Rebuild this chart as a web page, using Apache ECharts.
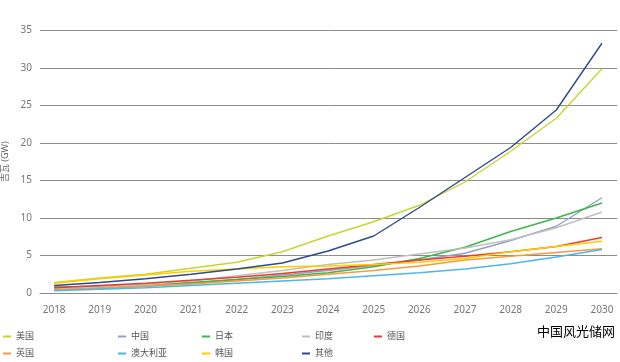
<!DOCTYPE html>
<html><head><meta charset="utf-8">
<script src="https://cdn.jsdelivr.net/npm/echarts@6/dist/echarts.min.js"></script>
<style>html,body{margin:0;padding:0;background:#fff}#c{width:620px;height:362px}</style>
</head><body><div id="c"></div>
<script>
const years = [2018,2019,2020,2021,2022,2023,2024,2025,2026,2027,2028,2029,2030];
const yTicks = [0,5,10,15,20,25,30,35];
const usa       = [1.4,2.0,2.5,3.3,4.1,5.5,7.6,9.5,11.7,14.8,18.9,23.3,29.9];
const china     = [0.5,0.7,0.9,1.3,1.8,2.4,3.0,3.7,4.4,5.3,7.0,8.9,12.7];
const japan     = [0.8,0.9,1.1,1.4,1.8,2.2,2.7,3.5,4.6,6.1,8.2,10.0,12.0];
const india     = [0.6,0.8,1.1,1.6,2.3,3.0,3.8,4.4,5.2,6.0,7.1,8.7,10.8];
const germany   = [0.7,1.0,1.3,1.7,2.1,2.6,3.2,3.8,4.4,4.9,5.5,6.2,7.4];
const uk        = [0.4,0.6,0.9,1.2,1.6,2.0,2.5,3.0,3.6,4.4,4.9,5.4,5.9];
const australia = [0.3,0.5,0.7,1.0,1.3,1.6,1.9,2.3,2.7,3.2,3.9,4.8,5.8];
const korea     = [1.3,1.9,2.4,2.9,3.2,3.5,3.6,3.8,4.1,4.6,5.5,6.2,6.9];
const other     = [1.0,1.4,1.9,2.5,3.2,4.0,5.6,7.6,11.4,15.4,19.4,24.4,33.3];

const names  = ['美国','中国','日本','印度','德国','英国','澳大利亚','韩国','其他'];
const values = [usa,china,japan,india,germany,uk,australia,korea,other];
const colors = ['#c8d62c','#8ea2c6','#3db54a','#bfbfbf','#ee3b2c','#f79a3a','#4bb7ea','#ffcc00','#2c4a8c'];
const legendPos = [[3,332],[118,332],[202,332],[302,332],[374,332],[3,349],[118,349],[202,349],[302,349]];

const FONT = '"Noto Sans","Noto Sans CJK SC",sans-serif';
const chart = echarts.init(document.getElementById('c'));
const series = names.map((n,i)=>({
  name:n, type:'line', symbol:'none', smooth:false,
  lineStyle:{width:1.4,color:colors[i]}, itemStyle:{color:colors[i]},
  data: years.map((y,k)=>[y,values[i][k]])
}));
const legends = names.map((n,i)=>({
  data:[n], left:legendPos[i][0], top:legendPos[i][1], icon:'rect',
  itemWidth:8, itemHeight:2, itemGap:5, padding:0,
  textStyle:{color:'#555',fontSize:9,fontFamily:FONT}
}));
chart.setOption({
  animation:false,
  grid:{left:40,right:3,top:30.5,bottom:69,containLabel:false,outerBoundsMode:'none'},
  xAxis:{type:'value',min:2017.69,max:2030.33,
    axisLine:{show:true,lineStyle:{color:'#8c8c8c',width:1}},
    axisTick:{show:false},splitLine:{show:false},
    axisLabel:{customValues:years,color:'#777',fontSize:10,margin:12,fontFamily:FONT,formatter:v=>String(Math.round(v))}
  },
  yAxis:{type:'value',min:0,max:35,interval:5,
    name:'吉瓦 (GW)',nameLocation:'middle',nameGap:27,nameRotate:90,
    nameTextStyle:{color:'#666',fontSize:9,fontFamily:FONT},
    axisLine:{show:false},axisTick:{show:false},
    splitLine:{lineStyle:{color:'#8c8c8c',width:1}},
    axisLabel:{color:'#777',fontSize:10,margin:8,fontFamily:FONT,customValues:yTicks}
  },
  legend:legends,
  graphic:[{type:'text',left:537,top:325,style:{text:'中国风光储网',fill:'#000',font:'13px "Noto Sans CJK SC",sans-serif'}}],
  series:series
});
</script></body></html>
